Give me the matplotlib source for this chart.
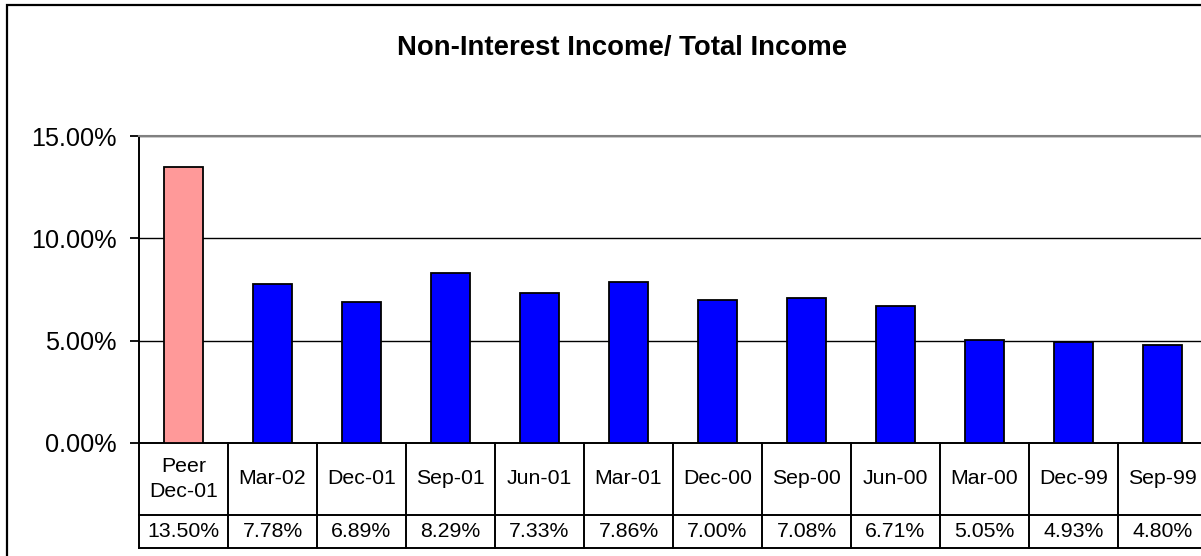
import matplotlib.pyplot as plt
from matplotlib.patches import Rectangle
from matplotlib.lines import Line2D
import matplotlib.transforms as mtransforms

plt.rcParams['font.family'] = ['Liberation Sans', 'DejaVu Sans']

# data
periods = ['Peer\nDec-01', 'Mar-02', 'Dec-01', 'Sep-01', 'Jun-01', 'Mar-01',
           'Dec-00', 'Sep-00', 'Jun-00', 'Mar-00', 'Dec-99', 'Sep-99']
ratios = [13.50, 7.78, 6.89, 8.29, 7.33, 7.86, 7.00, 7.08, 6.71, 5.05, 4.93, 4.80]
bar_colors = ['#FF9999'] + ['#0000FF'] * 11
yticks = [0, 5, 10, 15]

W, H = 1201, 556
fig = plt.figure(figsize=(W / 100, H / 100), dpi=100)

# plot area in pixels (top-left origin)
left, right, top, bottom = 139, 1207, 136, 443
ax = fig.add_axes([left / W, 1 - bottom / H, (right - left) / W, (bottom - top) / H])

x = list(range(len(ratios)))
ax.bar(x, ratios, width=0.43, color=bar_colors, edgecolor='black', linewidth=1.3, zorder=3)

ax.set_xlim(-0.5, len(ratios) - 0.5)
ax.set_ylim(0, 15)
ax.set_yticks(yticks)
ax.set_yticklabels(['%.2f%%' % v for v in yticks], fontsize=18.2)
ax.tick_params(axis='y', length=6.5, width=1.3, pad=9.5, direction='out')
ax.set_xticks([])
ax.grid(axis='y', color='black', linewidth=1.0, zorder=0)

ax.spines['right'].set_visible(False)
ax.spines['top'].set_color('#808080')
ax.spines['top'].set_linewidth(1.5)
ax.spines['left'].set_linewidth(1.4)
ax.spines['bottom'].set_linewidth(1.4)

# data table under the axis
ph = bottom - top
row1 = -(515 - bottom) / ph
row2 = -(548 - bottom) / ph
trans = mtransforms.blended_transform_factory(ax.transData, ax.transAxes)
for i in range(len(ratios) + 1):
    ax.add_line(Line2D([i - 0.5, i - 0.5], [0, row2], transform=trans,
                       color='black', linewidth=1.4, clip_on=False))
for yy in [row1, row2]:
    ax.add_line(Line2D([-0.5, len(ratios) - 0.5], [yy, yy], transform=trans,
                       color='black', linewidth=1.4, clip_on=False))
for i, (p, r) in enumerate(zip(periods, ratios)):
    ax.text(i, row1 / 2, p, transform=trans, ha='center', va='center',
            fontsize=15.3, linespacing=1.35)
    ax.text(i, (row1 + row2) / 2, '%.2f%%' % r, transform=trans,
            ha='center', va='center', fontsize=15.3)

fig.text(622.5 / W, 1 - 55 / H, 'Non-Interest Income/ Total Income',
         ha='center', va='baseline', fontsize=19.8, fontweight='bold')

# outer chart border (right and bottom edges fall outside the image)
fig.patches.append(Rectangle((7 / W, -0.1), 1.2, 1 - 5 / H + 0.1, transform=fig.transFigure,
                             fill=False, edgecolor='black', linewidth=1.6))

fig.savefig('out.png', dpi=100)
